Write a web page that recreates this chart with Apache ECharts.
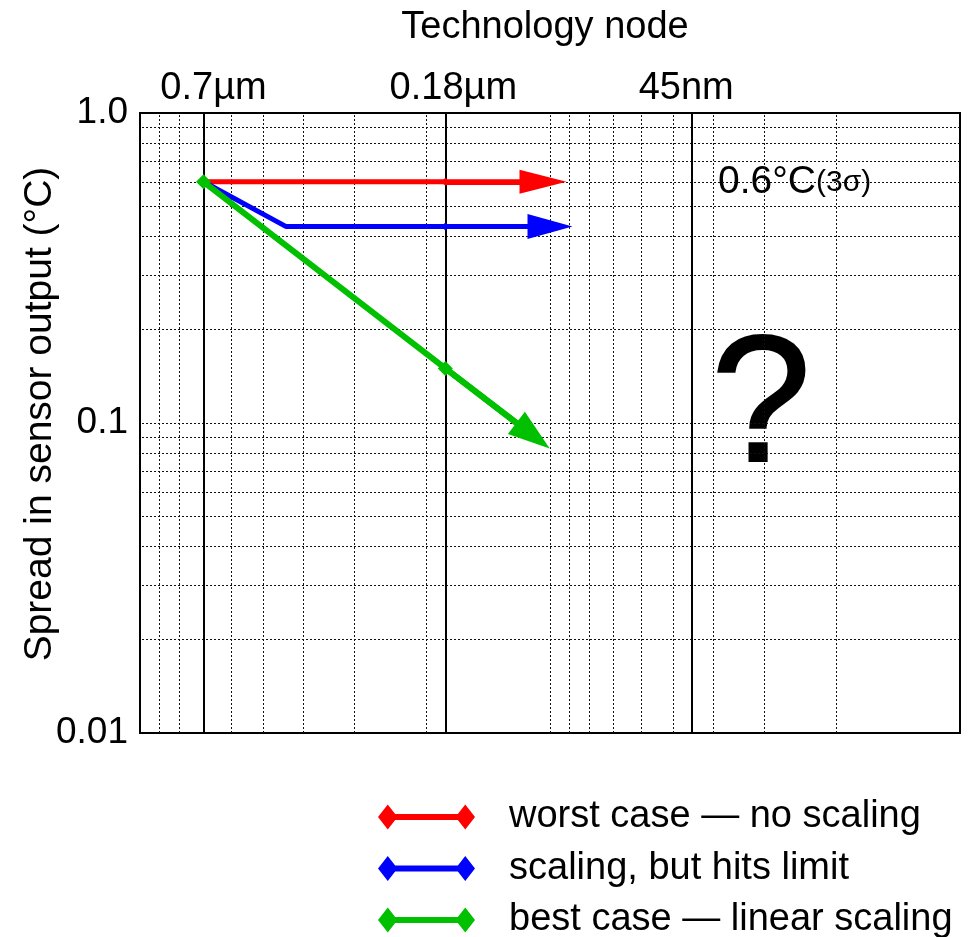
<!DOCTYPE html>
<html>
<head>
<meta charset="utf-8">
<title>Spread in sensor output vs technology node</title>
<script src="https://cdn.jsdelivr.net/npm/echarts@6/dist/echarts.min.js"></script>
<style>
  html, body { margin: 0; padding: 0; background: #fff; }
  #chart { width: 974px; height: 937px; }
</style>
</head>
<body>
<div id="chart"></div>
<script>
// Technology nodes (µm) drawn as solid vertical rules with their labels
const nodeValues = [0.7, 0.18, 0.045];
const nodeLabels = ['0.7\u00b5m', '0.18\u00b5m', '45nm'];

// Y tick labels for the decades 0.01, 0.1, 1
const yTickLabels = ['0.01', '0.1', '1.0'];

// Minor/major grid positions (2..9 per decade) on both log axes
const gridValues = [0.02, 0.03, 0.04, 0.05, 0.06, 0.07, 0.08, 0.09, 0.1,
                    0.2, 0.3, 0.4, 0.5, 0.6, 0.7, 0.8, 0.9];

// Series: [node in µm, spread in °C]; the last point is the arrowhead centre
const worstCase = [[0.7, 0.6], [0.18, 0.6], [0.104, 0.6]];
const hitsLimit = [[0.7, 0.6], [0.44, 0.43], [0.18, 0.43], [0.1, 0.43]];
const bestCase  = [[0.7, 0.6], [0.18, 0.15], [0.11, 0.091]];

const seriesNames = ['worst case \u2014 no scaling', 'scaling, but hits limit', 'best case \u2014 linear scaling'];
const seriesColors = ['#ff0000', '#0000ff', '#00c000'];

const FONT = "'Liberation Sans', Arial, Helvetica, sans-serif";

// Small horizontal nudges so each node label sits as typeset
const nodeLabelNudge = [10, 8, -6];

function buildSeries(name, color, data, markerSize, lineWidth, arrowSize) {
  const last = data.length - 1;
  const points = data.map(function (p) {
    const isNode = p[0] === 0.7 || p[0] === 0.18;
    return { value: p, symbol: isNode ? 'diamond' : 'none', symbolSize: markerSize };
  });
  return {
    name: name,
    type: 'line',
    data: points,
    z: 5,
    lineStyle: { color: color, width: lineWidth },
    itemStyle: { color: color },
    markLine: {
      silent: true,
      animation: false,
      precision: 6,
      lineStyle: { color: color, width: lineWidth, type: 'solid' },
      label: { show: false },
      data: [[
        { coord: data[last - 1], symbol: 'none' },
        { coord: data[last], symbol: 'triangle', symbolSize: arrowSize }
      ]]
    }
  };
}

const dotted = { color: '#111', width: 1, type: [2, 2] };

const gridSeries = {
  name: 'grid',
  type: 'line',
  data: [],
  z: 1,
  markLine: {
    silent: true,
    animation: false,
    precision: 6,
    symbol: 'none',
    label: { show: false },
    lineStyle: dotted,
    data: gridValues.map(function (v) { return { yAxis: v }; })
      .concat(gridValues.map(function (v) { return { xAxis: v }; }))
  }
};

const nodeSeries = {
  name: 'nodes',
  type: 'line',
  data: [],
  z: 2,
  markLine: {
    silent: true,
    animation: false,
    precision: 6,
    symbol: 'none',
    lineStyle: { color: '#000', width: 2, type: 'solid' },
    label: {
      show: true,
      position: 'end',
      distance: 5,
      color: '#000',
      fontFamily: FONT,
      fontSize: 38,
      formatter: function (p) { return nodeLabels[p.dataIndex]; }
    },
    data: nodeValues.map(function (v, i) {
      return { xAxis: v, label: { offset: [nodeLabelNudge[i], 0] } };
    })
  }
};

const chart = echarts.init(document.getElementById('chart'), null, { renderer: 'canvas' });

chart.setOption({
  animation: false,
  backgroundColor: '#fff',
  textStyle: { fontFamily: FONT, color: '#000' },
  grid: {
    left: 140, right: 14, top: 113, bottom: 204,
    show: true, borderColor: '#000', borderWidth: 2, backgroundColor: 'transparent'
  },
  xAxis: {
    type: 'log',
    logBase: 10,
    min: 0.01,
    max: 1,
    inverse: true,
    position: 'top',
    name: 'Technology node',
    nameLocation: 'middle',
    nameGap: 66,
    nameMoveOverlap: false,
    nameTextStyle: { fontSize: 38, color: '#000', fontFamily: FONT, padding: [0, 10, 0, 0] },
    axisLine: { show: true, lineStyle: { color: '#000', width: 2 } },
    axisTick: { show: false },
    axisLabel: { show: false },
    splitLine: { show: false }
  },
  yAxis: {
    type: 'log',
    logBase: 10,
    min: 0.01,
    max: 1,
    name: 'Spread in sensor output (\u00b0C)',
    nameLocation: 'middle',
    nameGap: 80,
    nameMoveOverlap: false,
    nameTextStyle: { fontSize: 39, color: '#000', fontFamily: FONT, padding: [0, 0, 0, 18] },
    axisLine: { show: true, lineStyle: { color: '#000', width: 2 } },
    axisTick: { show: false },
    axisLabel: {
      margin: 12,
      fontSize: 37,
      color: '#000',
      fontFamily: FONT,
      formatter: function (v, i) { return yTickLabels[i]; }
    },
    splitLine: { show: false }
  },
  legend: {
    orient: 'vertical',
    left: 378,
    top: 798,
    height: 180,
    padding: 0,
    itemWidth: 97,
    itemHeight: 25,
    itemGap: 13.5,
    icon: 'path://M0,12.5 L9.75,0 L19.5,12.5 L9.75,25 Z M77.5,12.5 L87.25,0 L97,12.5 L87.25,25 Z M9,9.5 L88,9.5 L88,15.5 L9,15.5 Z',
    data: seriesNames,
    textStyle: { fontSize: 38, color: '#000', fontFamily: FONT, padding: [0, 0, 0, 29] },
    selectedMode: false
  },
  graphic: [
    {
      type: 'text',
      left: 718,
      top: 163,
      style: {
        text: '{a|0.6\u00b0C}{b|(3\u03c3)}',
        rich: {
          a: { fontSize: 39, fontFamily: FONT, fill: '#000' },
          b: { fontSize: 30, fontFamily: FONT, fill: '#000' }
        }
      }
    },
    {
      type: 'text',
      style: {
        text: '?',
        x: 761,
        y: 411,
        font: '180px ' + FONT,
        fill: '#000',
        stroke: '#000',
        lineWidth: 2,
        textAlign: 'center',
        textVerticalAlign: 'middle'
      }
    }
  ],
  series: [
    gridSeries,
    nodeSeries,
    buildSeries(seriesNames[0], seriesColors[0], worstCase, 8, 5, [24, 47]),
    buildSeries(seriesNames[1], seriesColors[1], hitsLimit, 8, 5, [25, 45]),
    buildSeries(seriesNames[2], seriesColors[2], bestCase, 15, 6, [28, 42])
  ]
});
</script>
</body>
</html>
